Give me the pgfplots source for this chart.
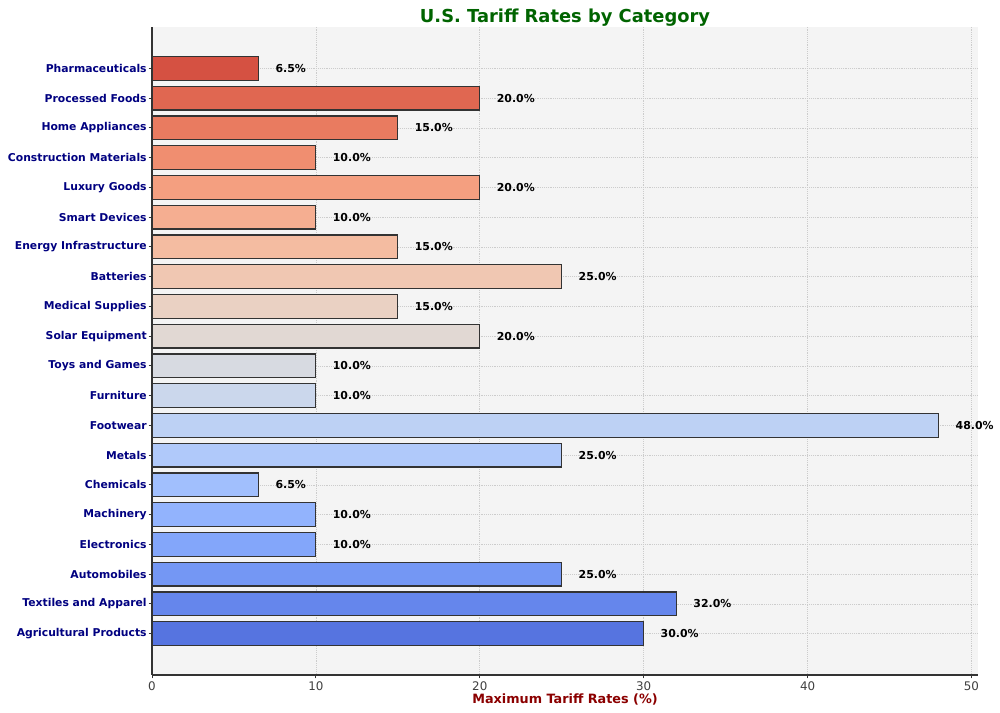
\documentclass[border=0pt]{standalone}
\usepackage{fontspec}
\setmainfont{DejaVu Sans}
\usepackage{pgfplots}
\pgfplotsset{compat=1.18}
\definecolor{c0}{RGB}{86,116,224}
\definecolor{c1}{RGB}{101,134,236}
\definecolor{c2}{RGB}{116,151,244}
\definecolor{c3}{RGB}{131,166,250}
\definecolor{c4}{RGB}{146,179,253}
\definecolor{c5}{RGB}{161,191,253}
\definecolor{c6}{RGB}{176,201,250}
\definecolor{c7}{RGB}{189,209,244}
\definecolor{c8}{RGB}{203,215,236}
\definecolor{c9}{RGB}{215,218,225}
\definecolor{c10}{RGB}{225,216,211}
\definecolor{c11}{RGB}{234,209,195}
\definecolor{c12}{RGB}{240,199,178}
\definecolor{c13}{RGB}{244,188,161}
\definecolor{c14}{RGB}{245,174,145}
\definecolor{c15}{RGB}{244,159,128}
\definecolor{c16}{RGB}{240,142,112}
\definecolor{c17}{RGB}{233,123,96}
\definecolor{c18}{RGB}{224,103,81}
\definecolor{c19}{RGB}{213,81,66}
\definecolor{bgray}{RGB}{244,244,244}
\definecolor{titlegreen}{RGB}{0,100,0}
\definecolor{labred}{RGB}{139,0,0}
\definecolor{navyc}{RGB}{0,0,128}
\begin{document}
\begin{tikzpicture}
\begin{axis}[
  scale only axis,
  width=619.5pt, height=486pt,
  xbar, bar width=0.8, bar shift=0pt,
  xmin=0, xmax=50.4, ymin=-1.39, ymax=20.39,
  enlargelimits=false,
  axis x line*=bottom, axis y line*=left,
  axis line style={-, draw=black!80, line width=0.8pt},
  axis background/.style={fill=bgray},
  /pgf/number format/assume math mode=true,
  tick align=outside, major tick length=2.6pt,
  tick style={draw=black!80, line width=0.6pt},
  xtick={0,10,20,30,40,50},
  ytick={0,...,19},
  yticklabels={Agricultural Products, Textiles and Apparel, Automobiles, Electronics, Machinery, Chemicals, Metals, Footwear, Furniture, Toys and Games, Solar Equipment, Medical Supplies, Batteries, Energy Infrastructure, Smart Devices, Luxury Goods, Construction Materials, Home Appliances, Processed Foods, Pharmaceuticals},
  yticklabel style={font=\bfseries\fontsize{8.1}{9}\selectfont, text=navyc, inner sep=0pt, xshift=-1.2pt},
  xticklabel style={font=\fontsize{8.9}{10}\selectfont, text=black!75, yshift=1pt},
  grid=major,
  grid style={densely dotted, gray!40, line width=0.5pt},
  title={U.S. Tariff Rates by Category},
  title style={font=\bfseries\fontsize{13.4}{15}\selectfont, text=titlegreen, inner sep=0pt, yshift=-6pt},
  xlabel={Maximum Tariff Rates (\%)},
  xlabel style={font=\bfseries\fontsize{9.6}{11}\selectfont, text=labred, yshift=5pt},
  point meta=x,
  nodes near coords={\pgfmathprintnumber[fixed,fixed zerofill,precision=1]{\pgfplotspointmeta}\%},
  every node near coord/.append style={font=\bfseries\fontsize{8.2}{10}\selectfont, text=black, anchor=west, inner sep=0pt, xshift=12.3pt},
  every axis plot/.append style={draw=black!80, line width=0.9pt},
]
\addplot[fill=c0] coordinates {(30,0)};
\addplot[fill=c1] coordinates {(32,1)};
\addplot[fill=c2] coordinates {(25,2)};
\addplot[fill=c3] coordinates {(10,3)};
\addplot[fill=c4] coordinates {(10,4)};
\addplot[fill=c5] coordinates {(6.5,5)};
\addplot[fill=c6] coordinates {(25,6)};
\addplot[fill=c7] coordinates {(48,7)};
\addplot[fill=c8] coordinates {(10,8)};
\addplot[fill=c9] coordinates {(10,9)};
\addplot[fill=c10] coordinates {(20,10)};
\addplot[fill=c11] coordinates {(15,11)};
\addplot[fill=c12] coordinates {(25,12)};
\addplot[fill=c13] coordinates {(15,13)};
\addplot[fill=c14] coordinates {(10,14)};
\addplot[fill=c15] coordinates {(20,15)};
\addplot[fill=c16] coordinates {(10,16)};
\addplot[fill=c17] coordinates {(15,17)};
\addplot[fill=c18] coordinates {(20,18)};
\addplot[fill=c19] coordinates {(6.5,19)};
\coordinate (ll) at (rel axis cs:0,0);
\coordinate (ur) at (rel axis cs:1,1);
\end{axis}
\pgfresetboundingbox
\path ([xshift=-114pt,yshift=-28.5pt]ll) rectangle ([xshift=16.5pt,yshift=20.25pt]ur);
\end{tikzpicture}
\end{document}
